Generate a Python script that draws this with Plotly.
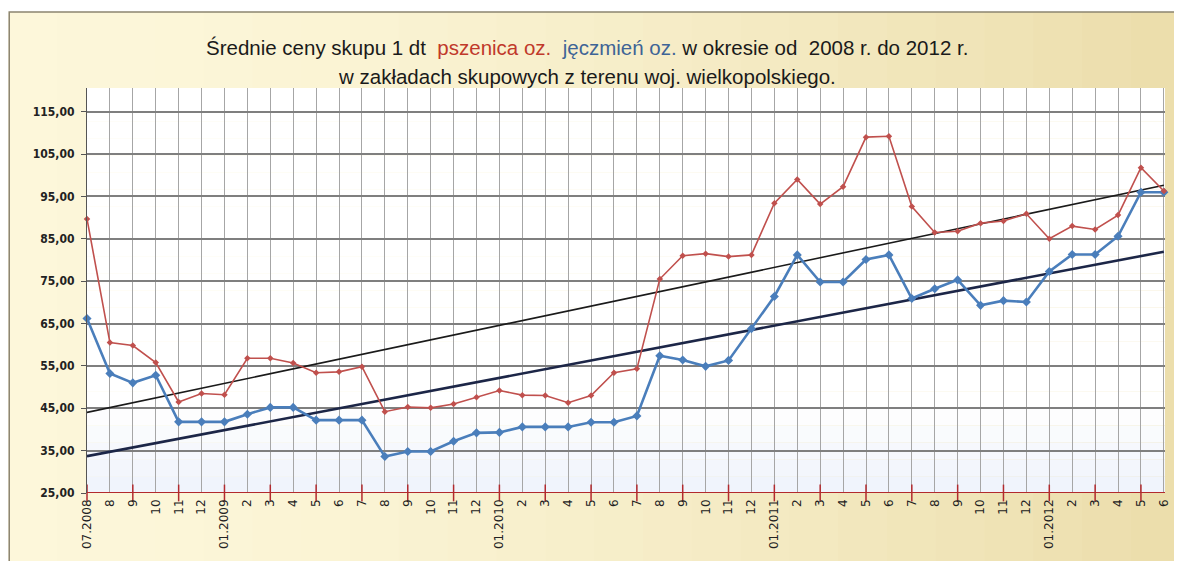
import numpy as np
import plotly.graph_objects as go

months = ["07.2008", "8", "9", "10", "11", "12",
          "01.2009", "2", "3", "4", "5", "6", "7", "8", "9", "10", "11", "12",
          "01.2010", "2", "3", "4", "5", "6", "7", "8", "9", "10", "11", "12",
          "01.2011", "2", "3", "4", "5", "6", "7", "8", "9", "10", "11", "12",
          "01.2012", "2", "3", "4", "5", "6"]

pszenica = [89.7, 60.5, 59.8, 55.8, 46.5, 48.5,
            48.2, 56.8, 56.8, 55.7, 53.4, 53.6, 54.8, 44.2, 45.3, 45.1, 46.0, 47.6,
            49.2, 48.1, 48.0, 46.3, 48.0, 53.4, 54.3, 75.5, 81.0, 81.5, 80.8, 81.2,
            93.4, 99.0, 93.2, 97.3, 109.0, 109.2, 92.6, 86.5, 86.8, 88.7, 89.2, 90.9,
            85.0, 88.0, 87.2, 90.6, 101.8, 96.3]

jeczmien = [66.2, 53.2, 51.0, 52.8, 41.8, 41.8,
            41.8, 43.6, 45.2, 45.2, 42.2, 42.2, 42.2, 33.6, 34.8, 34.8, 37.2, 39.2,
            39.3, 40.6, 40.6, 40.6, 41.7, 41.7, 43.2, 57.4, 56.4, 54.9, 56.3, 63.8,
            71.4, 81.2, 74.8, 74.8, 80.1, 81.2, 70.9, 73.2, 75.3, 69.3, 70.4, 70.1,
            77.3, 81.3, 81.3, 85.6, 96.0, 96.0]

yticks = [25, 35, 45, 55, 65, 75, 85, 95, 105, 115]

x = np.arange(len(months))

# linear trend lines (as Excel trendlines)
cr = np.polyfit(x, pszenica, 1)
cb = np.polyfit(x, jeczmien, 1)
trend_r = np.polyval(cr, x)
trend_b = np.polyval(cb, x)

RED = "#c0504d"
BLUE = "#4a7ebb"
AXRED = "#b22a2e"

W, H = 1174, 553
L, R, T, B = 79, 11, 80, 68
PW, PH = W - L - R, H - T - B


def px(X):
    return (X - L) / PW


def py(Y):
    return (H - B - Y) / PH


fig = go.Figure()

fig.add_trace(go.Scatter(x=x, y=trend_r, mode="lines",
                         line=dict(color="#1a1a1a", width=1.6), hoverinfo="skip"))
fig.add_trace(go.Scatter(x=x, y=trend_b, mode="lines",
                         line=dict(color="#1c2647", width=2.6), hoverinfo="skip"))
fig.add_trace(go.Scatter(x=x, y=jeczmien, mode="lines+markers",
                         line=dict(color=BLUE, width=2.6),
                         marker=dict(symbol="diamond", size=7, color=BLUE),
                         cliponaxis=False))
fig.add_trace(go.Scatter(x=x, y=pszenica, mode="lines+markers",
                         line=dict(color=RED, width=1.6),
                         marker=dict(symbol="diamond", size=5, color=RED),
                         cliponaxis=False))
# crossing tick marks on the x axis every 2 months
fig.add_trace(go.Scatter(x=x[::2], y=[25] * len(x[::2]), mode="markers",
                         marker=dict(symbol="line-ns-open", size=12, color=AXRED,
                                     line=dict(color=AXRED, width=1.5)),
                         cliponaxis=False, hoverinfo="skip"))

shapes = []
# outer frame with cream gradient
n = 24
fx0, fx1 = 0, W + 4
for i in range(n):
    t = i / (n - 1)
    r = int(253 + (236 - 253) * t ** 1.6)
    g = int(247 + (222 - 247) * t ** 1.6)
    b = int(218 + (172 - 218) * t ** 1.6)
    shapes.append(dict(type="rect", xref="paper", yref="paper",
                       x0=px(fx0 + (fx1 - fx0) * i / n),
                       x1=px(fx0 + (fx1 - fx0) * (i + 1) / n + 1),
                       y0=py(H + 4), y1=py(4),
                       fillcolor=f"rgb({r},{g},{b})", line=dict(width=0),
                       layer="below"))
shapes.append(dict(type="rect", xref="paper", yref="paper",
                   x0=px(0.8), x1=px(W + 6), y0=py(H + 6), y1=py(4),
                   line=dict(color="#8c8570", width=1.5), fillcolor="rgba(0,0,0,0)",
                   layer="below"))
# plot area gradient: white to light lavender at bottom
m = 24
for i in range(m):
    t = i / (m - 1)
    if t < 0.8:
        c = (255, 255, 255)
    else:
        s = (t - 0.8) / 0.2
        c = (int(255 - 15 * s), int(255 - 11 * s), int(255 - 3 * s))
    shapes.append(dict(type="rect", xref="paper", yref="paper",
                       x0=0, x1=1, y0=1 - (i + 1) / m, y1=1 - i / m,
                       fillcolor=f"rgb{c}", line=dict(width=0), layer="below"))

title_font = "Liberation Sans, Arial, sans-serif"
xtick_font = "DejaVu Sans, Verdana, sans-serif"
ytick_font = "DejaVu Sans Condensed, DejaVu Sans, sans-serif"
fig.update_layout(
    width=W, height=H,
    margin=dict(l=L, r=R, t=T, b=B),
    paper_bgcolor="rgba(0,0,0,0)",
    plot_bgcolor="rgba(0,0,0,0)",
    showlegend=False,
    shapes=shapes,
    annotations=[
        dict(xref="paper", yref="paper", x=px(582), y=py(39),
             showarrow=False, xanchor="center", yanchor="middle",
             text=("Średnie ceny skupu 1 dt  <span style='color:#c0392b'>pszenica oz.</span>  "
                   "<span style='color:#3e6496'>jęczmień oz.</span> w okresie od  2008 r. do 2012 r."),
             font=dict(family=title_font, size=20.5, color="#1a1a1a")),
        dict(xref="paper", yref="paper", x=px(582), y=py(69),
             showarrow=False, xanchor="center", yanchor="middle",
             text="w zakładach skupowych z terenu woj. wielkopolskiego.",
             font=dict(family=title_font, size=20.5, color="#1a1a1a")),
    ],
    xaxis=dict(range=[0, 47.05], tickmode="array", tickvals=list(x), ticktext=months,
               tickangle=-90, showgrid=True, gridcolor="#a6a6a6", gridwidth=1,
               zeroline=False, showline=False, ticks="", ticklabelstandoff=3,
               tickfont=dict(family=xtick_font, size=12, color="#222222")),
    yaxis=dict(range=[25, 120.6], tickmode="array", tickvals=yticks,
               ticktext=[f"<b>{v},00</b>" for v in yticks],
               showgrid=True, gridcolor="#7f7f7f", gridwidth=1.6, zeroline=False,
               showline=True, linecolor="#555555", linewidth=1.2,
               ticks="outside", ticklen=5, tickcolor="#555555", ticklabelstandoff=4,
               tickfont=dict(family=ytick_font, size=12, color="#222222")),
)
fig.add_hline(y=25, line=dict(color=AXRED, width=2))

fig.write_html("out.html")
